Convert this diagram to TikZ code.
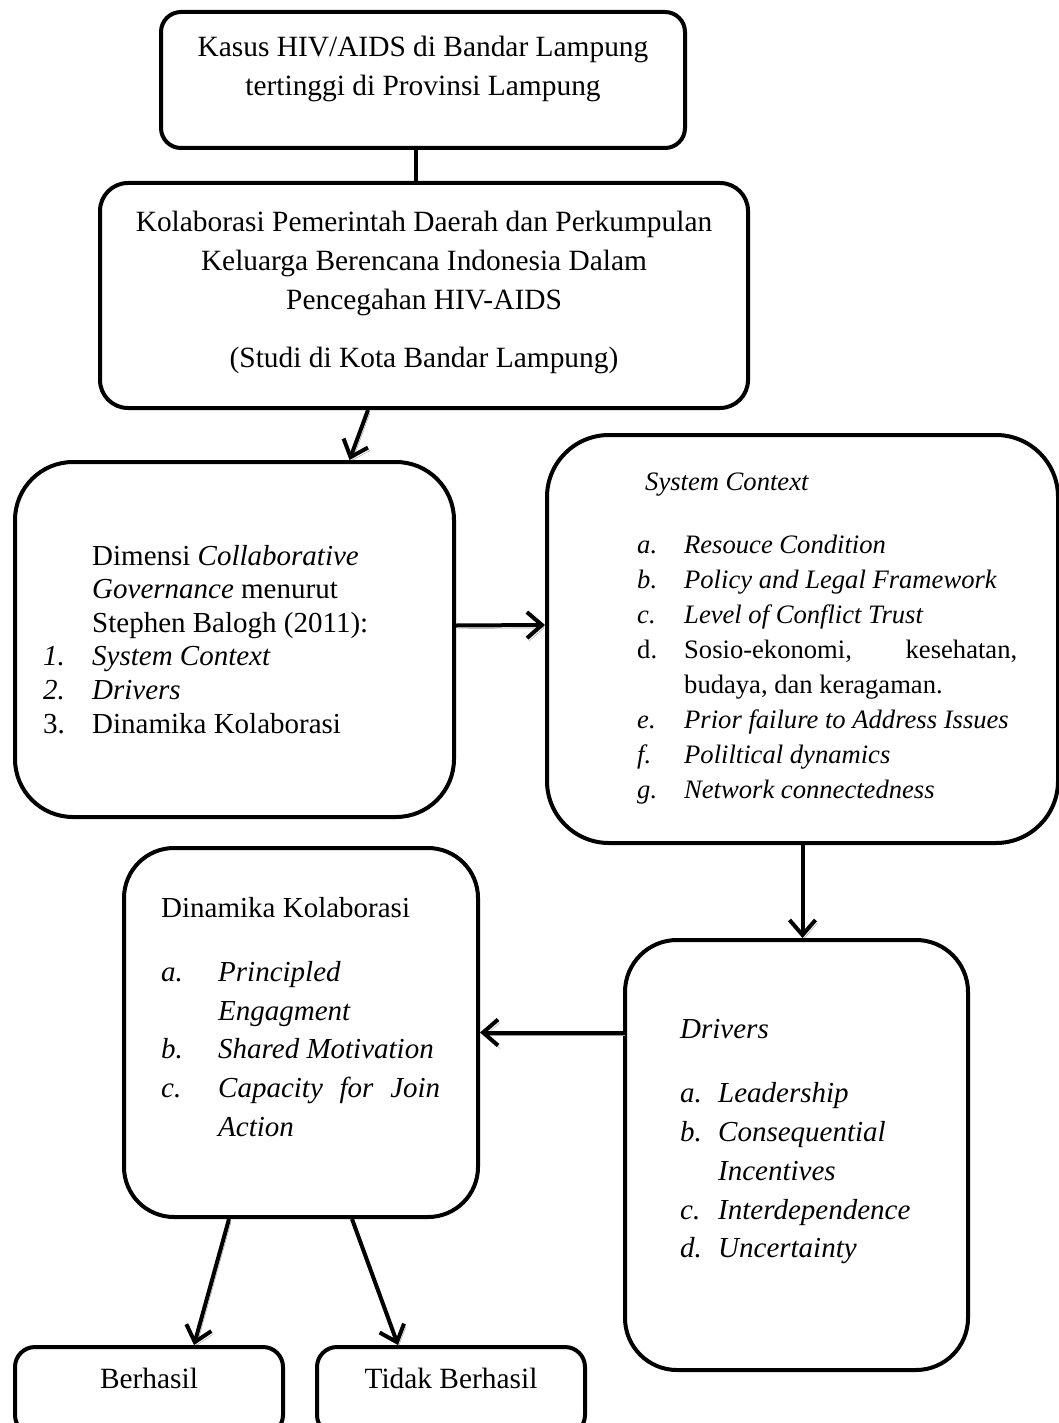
\documentclass[tikz,border=0pt]{standalone}
\usepackage{fontspec}
\setmainfont{Liberation Serif}
\usepackage{tikz}
\usetikzlibrary{arrows.meta, calc}
\colorlet{shadegray}{black!40}
\newcommand{\bigfont}{\fontsize{29.4}{39}\selectfont}
\tikzset{
  box/.style={draw=black, line width=4pt, rounded corners=#1, inner sep=0pt},
  box/.default=20pt,
  txt/.style={inner sep=0pt, anchor=base west},
  link/.style={line width=4pt, -{Straight Barb[length=15pt, width=26pt]},
    preaction={draw=shadegray, transform canvas={shift={(2pt,-3pt)}}}}
}

\begin{document}
\begin{tikzpicture}[x=1pt, y=-1pt]
    \useasboundingbox (0,0) rectangle (1059,1423);
    \node[box=20pt, minimum width=524pt, minimum height=136pt] (b1) at (423,80) {};
    \node[box=28pt, minimum width=648pt, minimum height=225pt] (b2) at (424,295.5) {};
    \node[box=58pt, minimum width=439pt, minimum height=355pt] (b3) at (234.5,639.5) {};
    \node[box=62pt, minimum width=511pt, minimum height=408pt] (b4) at (802.5,639) {};
    \node[box=50pt, minimum width=354pt, minimum height=369pt] (b5) at (301,1032.5) {};
    \node[box=52pt, minimum width=343pt, minimum height=430pt] (b6) at (796.5,1155) {};
    \node[box=20pt, minimum width=268pt, minimum height=88pt] (b7) at (149,1391) {};
    \node[box=20pt, minimum width=268pt, minimum height=88pt] (b8) at (451,1391) {};

    \node[txt, anchor=base] (t1) at (423,57) {\bigfont
      \begin{tabular}[t]{@{}c@{}}
        Kasus HIV/AIDS di Bandar Lampung\\
        tertinggi di Provinsi Lampung
      \end{tabular}};
    \node[txt, anchor=base] (t2) at (424,232) {\bigfont
      \begin{tabular}[t]{@{}c@{}}
        Kolaborasi Pemerintah Daerah dan Perkumpulan\\
        Keluarga Berencana Indonesia Dalam\\
        Pencegahan HIV-AIDS\\[18pt]
        (Studi di Kota Bandar Lampung)
      \end{tabular}};
    \node[txt] (t3) at (43,565) {\fontsize{29}{33.6}\selectfont
      \begin{tabular}[t]{@{}p{49pt}@{}l@{}}
        & Dimensi \textit{Collaborative}\\
        & \textit{Governance} menurut\\
        & Stephen Balogh (2011):\\
        \textit{1.} & \textit{System Context}\\
        \textit{2.} & \textit{Drivers}\\
        3. & Dinamika Kolaborasi
      \end{tabular}};
    \node[txt] (t4) at (637,490) {\fontsize{26.6}{35}\selectfont
      \begin{tabular}[t]{@{}p{47pt}@{}l@{}}
        \multicolumn{2}{@{\hspace{8pt}}l@{}}{\textit{System Context}}\\[28pt]
        \textit{a.} & \textit{Resouce Condition}\\
        \textit{b.} & \textit{Policy and Legal Framework}\\
        \textit{c.} & \textit{Level of Conflict Trust}\\
        d. & \hbox to 333pt{Sosio-ekonomi,\hfil kesehatan,}\\
           & budaya, dan keragaman.\\
        \textit{e.} & \textit{Prior failure to Address Issues}\\
        \textit{f.} & \textit{Poliltical dynamics}\\
        \textit{g.} & \textit{Network connectedness}
      \end{tabular}};
    \node[txt] (t5) at (161,917) {\fontsize{29}{38.6}\selectfont
      \begin{tabular}[t]{@{}p{57pt}@{}l@{}}
        \multicolumn{2}{@{}l@{}}{Dinamika Kolaborasi}\\[26pt]
        \textit{a.} & \textit{Principled}\\
                    & \textit{Engagment}\\
        \textit{b.} & \textit{Shared Motivation}\\
        \textit{c.} & \hbox to 222pt{\itshape Capacity\hfil for\hfil Join}\\
                    & \textit{Action}
      \end{tabular}};
    \node[txt] (t6) at (680,1038) {\fontsize{29}{38.75}\selectfont\itshape
      \begin{tabular}[t]{@{}p{38pt}@{}l@{}}
        \multicolumn{2}{@{}l@{}}{Drivers}\\[26pt]
        a. & Leadership\\
        b. & Consequential\\
           & Incentives\\
        c. & Interdependence\\
        d. & Uncertainty
      \end{tabular}};
    \node[txt, anchor=base] (t7) at (149,1388) {\bigfont Berhasil};
    \node[txt, anchor=base] (t8) at (451,1388) {\bigfont Tidak Berhasil};

    \draw[line width=4pt] ($(b1.south)+(-7,0)$) -- ($(b2.north)+(-8,0)$);
    \draw[link] ($(b2.south)+(-56,0)$) -- ($(b3.north)+(115,0)$);
    \draw[link] ($(b3.east)+(0,-14)$) -- ($(b4.west)+(0,-14)$);
    \draw[link] (b4.south) -- (b4.south |- b6.north);
    \draw[link] (b6.west |- b5.east) -- (b5.east);
    \draw[link] ($(b5.south)+(-72,0)$) -- ($(b7.north)+(45,0)$);
    \draw[link] ($(b5.south)+(51,0)$) -- ($(b8.north)+(-53,0)$);
  \end{tikzpicture}
\end{document}
